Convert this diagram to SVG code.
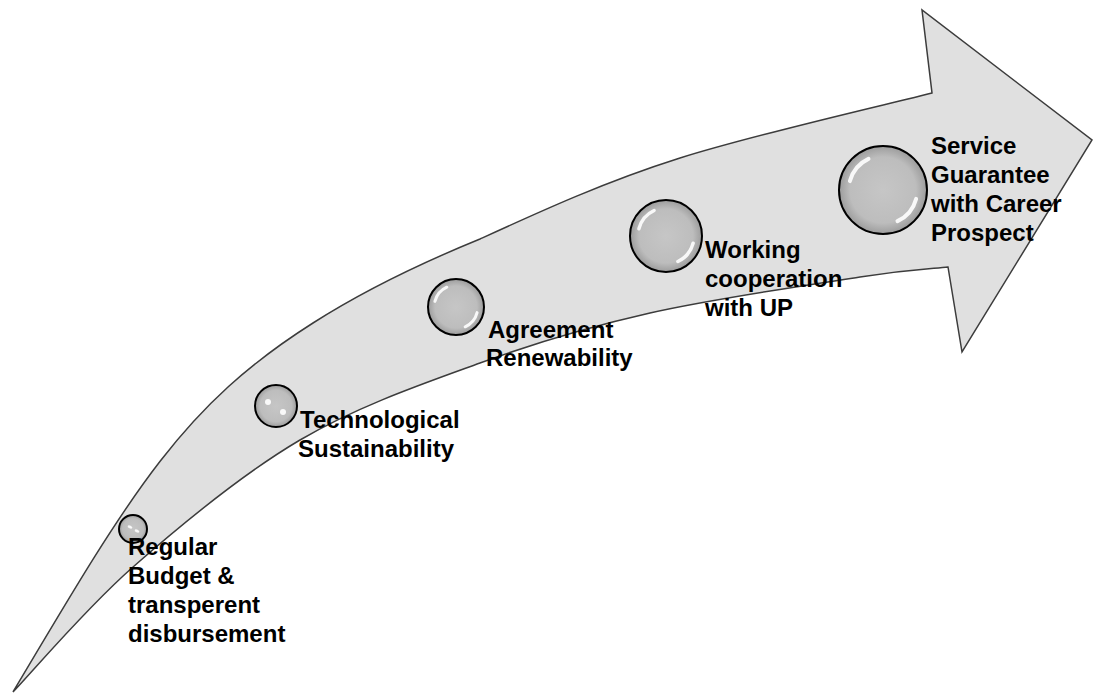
<svg xmlns="http://www.w3.org/2000/svg" width="1094" height="694" viewBox="0 0 1094 694">
<defs>
<radialGradient id="bub" cx="50%" cy="50%" r="50%">
<stop offset="0" stop-color="#c6c6c6"/>
<stop offset="0.75" stop-color="#bdbdbd"/>
<stop offset="1" stop-color="#9c9c9c"/>
</radialGradient>
<style>
.arrow{fill:#e0e0e0;stroke:#3c3c3c;stroke-width:1.5;stroke-linejoin:miter}
.bubble{fill:url(#bub);stroke:#000;stroke-width:2}
.hl{fill:none;stroke:#fff;stroke-linecap:round;opacity:0.9}
.dot{fill:#fff;opacity:0.9}
.lbl{font-family:"Liberation Sans",Arial,sans-serif;font-weight:bold;font-size:24px;fill:#000}
</style>
</defs>
<rect width="1094" height="694" fill="#fff"/>
<g id="arrow">
<path class="arrow" d="M13,692 C133,490 182,406 313,323 C359.7,293.2 418.8,264 480,239 C541.2,211 604.7,181.8 680,158 C755.3,134.2 890,103.8 932,93 L922,10 L1092,140 L962,352 L948,267 C933.3,268.7 909.7,269.3 860,277 C810.3,284.7 713.3,298.7 650,313 C586.7,327.3 538.3,341.8 480,363 C421.7,384.2 357.8,406 300,440 C242.2,474 180.8,525 133,567 C85.2,609 33,671.2 13,692 Z"/>
</g>
<g id="stage1">
<circle class="bubble" cx="133" cy="529" r="14"/>
<ellipse class="dot" cx="130" cy="527" rx="2.5" ry="1.5" transform="rotate(25 130 527)"/>
<ellipse class="dot" cx="137" cy="531" rx="2.5" ry="1.5" transform="rotate(25 137 531)"/>
<text class="lbl" x="128" y="555">Regular</text>
<text class="lbl" x="128" y="584">Budget &amp;</text>
<text class="lbl" x="128" y="613">transperent</text>
<text class="lbl" x="128" y="642">disbursement</text>
</g>
<g id="stage2">
<circle class="bubble" cx="276" cy="406" r="21"/>
<circle class="dot" cx="268" cy="402" r="3"/>
<circle class="dot" cx="283" cy="412" r="3"/>
<text class="lbl" x="300" y="428">Technological</text>
<text class="lbl" x="298" y="457">Sustainability</text>
</g>
<g id="stage3">
<circle class="bubble" cx="456" cy="307" r="28"/>
<path class="hl" stroke-width="3" d="M434.9,301.4 A21.8,21.8 0 0 1 446.8,287.2"/>
<path class="hl" stroke-width="3" d="M477.1,312.6 A21.8,21.8 0 0 1 465.2,326.8"/>
<text class="lbl" x="488" y="338">Agreement</text>
<text class="lbl" x="486" y="366">Renewability</text>
</g>
<g id="stage4">
<circle class="bubble" cx="666" cy="236" r="36"/>
<path class="hl" stroke-width="3.5" d="M638.9,228.7 A28.1,28.1 0 0 1 654.1,210.5"/>
<path class="hl" stroke-width="3.5" d="M693.1,243.3 A28.1,28.1 0 0 1 677.9,261.5"/>
<text class="lbl" x="705" y="258">Working</text>
<text class="lbl" x="705" y="287">cooperation</text>
<text class="lbl" x="705" y="316">with UP</text>
</g>
<g id="stage5">
<circle class="bubble" cx="883" cy="190" r="44"/>
<path class="hl" stroke-width="4" d="M849.9,181.1 A34.3,34.3 0 0 1 868.5,158.9"/>
<path class="hl" stroke-width="4" d="M916.1,198.9 A34.3,34.3 0 0 1 897.5,221.1"/>
<text class="lbl" x="931" y="154">Service</text>
<text class="lbl" x="931" y="183">Guarantee</text>
<text class="lbl" x="931" y="212">with Career</text>
<text class="lbl" x="931" y="241">Prospect</text>
</g>
</svg>
